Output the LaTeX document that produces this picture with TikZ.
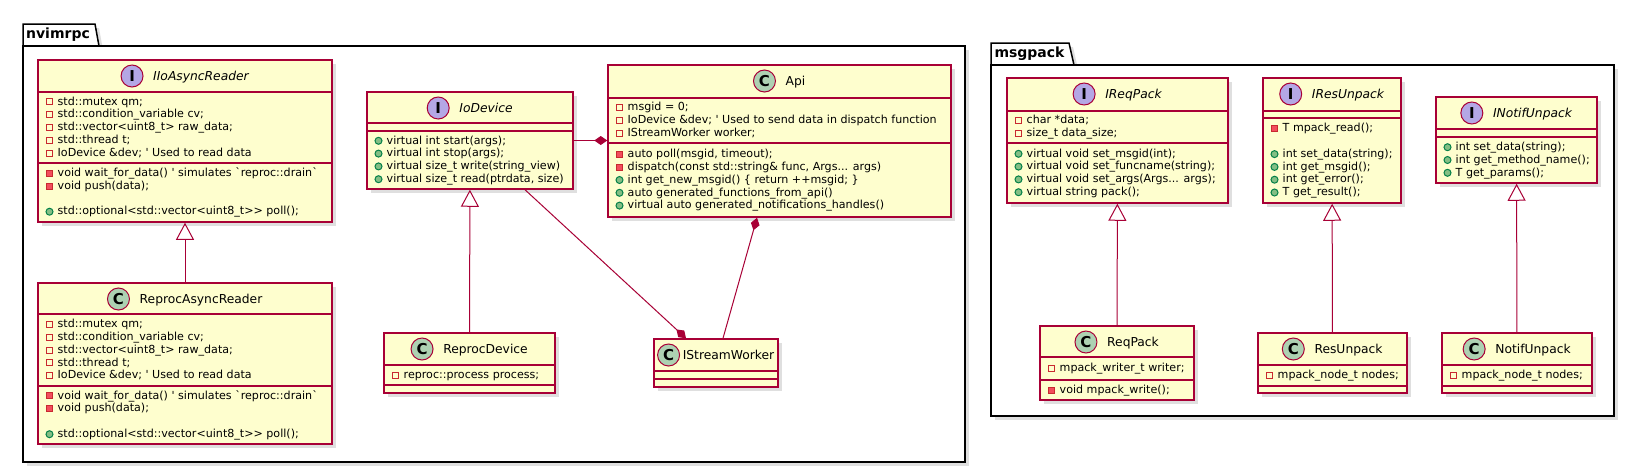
\documentclass[tikz,border=0pt]{standalone}
\usepackage{fontspec}
\newfontfamily\umlfont{DejaVu Sans}[ItalicFont={DejaVu Sans Oblique},BoldFont={DejaVu Sans Bold},BoldItalicFont={DejaVu Sans Bold Oblique}]
\usetikzlibrary{arrows.meta,shadows,fit}

% PlantUML colours
\definecolor{umlfill}{HTML}{FEFECE}
\definecolor{umlborder}{HTML}{A80036}
\definecolor{spotC}{HTML}{ADD1B2}
\definecolor{spotI}{HTML}{B4A7E5}
\definecolor{privline}{HTML}{C82930}
\definecolor{privfill}{HTML}{F24D5C}
\definecolor{publine}{HTML}{038048}
\definecolor{pubfill}{HTML}{84BE84}

\tikzset{
  umlshadow/.style={drop shadow={shadow xshift=4pt, shadow yshift=-4pt, opacity=0.25}},
  package/.style={draw=black, line width=1.5pt, fill=white, inner sep=0pt, umlshadow},
  pkglabel/.style={inner sep=0pt, font=\umlfont\bfseries\fontsize{14}{16}\selectfont},
  classbox/.style={draw=umlborder, line width=1.5pt, fill=umlfill, inner sep=0pt, umlshadow},
  classline/.style={draw=umlborder, line width=1.5pt},
  classname/.style={inner sep=0pt, text height=9pt, text depth=0pt, font=\umlfont\fontsize{12.3}{14}\selectfont},
  spot/.style={circle, draw=umlborder, line width=1pt, minimum size=22pt, inner sep=0pt, font=\umlfont\bfseries\fontsize{15}{15}\selectfont},
  spot C/.style={spot, fill=spotC},
  spot I/.style={spot, fill=spotI},
  member/.style={anchor=west, inner sep=0pt, text height=9pt, text depth=2.5pt, font=\umlfont\fontsize{11.1}{12.8}\selectfont},
  icon f/.style={draw=privline, line width=1pt, minimum size=6pt, inner sep=0pt},
  icon m/.style={draw=privline, fill=privfill, line width=1pt, minimum size=6pt, inner sep=0pt},
  icon p/.style={circle, draw=publine, fill=pubfill, line width=1pt, minimum size=7pt, inner sep=0pt},
  icon e/.style={inner sep=0pt},
  extends/.style={draw=umlborder, line width=1pt, -{Triangle[open, length=17pt, width=18pt]}},
  composition/.style={draw=umlborder, line width=1pt, -{Diamond[length=13pt, width=9pt]}}
}

% class box: name, spot letter, title, left, top, right, bottom, divider ys, gap spot/title
\newcommand\umlclass[9]{%
  \node[classbox, fit={(#4,#5) (#6,#7)}] (#1) {};
  \foreach \dy in {#8} \draw[classline] (#4,\dy) -- (#6,\dy);
  \node[classname] (#1-name) at ({(#4+#6)/2+(22+#9)/2}, #5+16) {#3};
  \node[spot #2] (#1-spot) at ([xshift=-#9-11]#1-name.west) {#2};
}

% one compartment: name, left, top, bottom, list of visibility/text
\newcount\memberno
\newcommand\members[5]{%
  \global\memberno=0
  \foreach \mvis/\mtext in {#5} {\global\advance\memberno by 1}
  \pgfmathsetmacro\firsty{(#3+#4)/2-(\the\memberno-1)*6.4}
  \foreach \mvis/\mtext [count=\i] in {#5} {
    \node[icon \mvis] (#1-i\i) at (#2+11.5, {\firsty+(\i-1)*12.8}) {};
    \node[member] (#1-\i) at (#2+19.5, {\firsty+(\i-1)*12.8}) {\mtext};
  }%
}

\begin{document}
\begin{tikzpicture}[x=1pt, y=-1pt]

    \useasboundingbox (0,0) rectangle (1635,472);
    \fill[white] (0,0) rectangle (1635,472);

    % packages
    \draw[package] (23,46) -- (23,24) -- (95,24) -- (99,46) -- cycle;
    \node[package, fit={(23,46) (965,462)}] (nvimrpc) {};
    \node[pkglabel] (nvimrpc-label) at (58,35) {nvimrpc};

    \draw[package] (991,65) -- (991,43) -- (1069,43) -- (1074,65) -- cycle;
    \node[package, fit={(991,65) (1614,416)}] (msgpack) {};
    \node[pkglabel] (msgpack-label) at (1029.5,54) {msgpack};

    % nvimrpc classes
    \umlclass{ioasync}{I}{\itshape IIoAsyncReader}{38}{60}{332}{222}{92,163}{10}
    \members{ioasync-f}{38}{92}{163}{f/{std::mutex qm;}, f/{std::condition\_variable cv;}, f/{std::vector<uint8\_t> raw\_data;}, f/{std::thread t;}, f/{IoDevice \&dev; ' Used to read data}}
    \members{ioasync-m}{38}{163}{222}{m/{void wait\_for\_data() ' simulates `reproc::drain`}, m/{void push(data);}, e/{}, p/{std::optional<std::vector<uint8\_t>> poll();}}

    \umlclass{reprocasync}{C}{ReprocAsyncReader}{38}{283}{332}{444}{314,386}{10}
    \members{reprocasync-f}{38}{314}{386}{f/{std::mutex qm;}, f/{std::condition\_variable cv;}, f/{std::vector<uint8\_t> raw\_data;}, f/{std::thread t;}, f/{IoDevice \&dev; ' Used to read data}}
    \members{reprocasync-m}{38}{386}{444}{m/{void wait\_for\_data() ' simulates `reproc::drain`}, m/{void push(data);}, e/{}, p/{std::optional<std::vector<uint8\_t>> poll();}}

    \umlclass{iodevice}{I}{\itshape IoDevice}{367}{92}{573}{189}{123,131}{10}
    \members{iodevice-m}{367}{131}{189}{p/{virtual int start(args);}, p/{virtual int stop(args);}, p/{virtual size\_t write(string\_view)}, p/{virtual size\_t read(ptrdata, size)}}

    \umlclass{api}{C}{Api}{608}{65}{951}{217}{98,143}{10}
    \members{api-f}{608}{98}{143}{f/{msgid = 0;}, f/{IoDevice \&dev; ' Used to send data in dispatch function}, f/{IStreamWorker worker;}}
    \members{api-m}{608}{143}{217}{m/{auto poll(msgid, timeout);}, m/{dispatch(const std::string\& func, Args... args)}, p/{int get\_new\_msgid() \{ return ++msgid; \}}, p/{auto generated\_functions\_from\_api()}, p/{virtual auto generated\_notifications\_handles()}}

    \umlclass{reprocdevice}{C}{ReprocDevice}{384}{333}{555}{393}{365,385}{10}
    \members{reprocdevice-f}{384}{365}{385}{f/{reproc::process process;}}

    \umlclass{streamworker}{C}{IStreamWorker}{654}{339}{778}{387}{371,379}{3}

    % msgpack classes
    \umlclass{ireqpack}{I}{\itshape IReqPack}{1007}{78}{1228}{203}{111,143}{10}
    \members{ireqpack-f}{1007}{111}{143}{f/{char *data;}, f/{size\_t data\_size;}}
    \members{ireqpack-m}{1007}{143}{203}{p/{virtual void set\_msgid(int);}, p/{virtual void set\_funcname(string);}, p/{virtual void set\_args(Args... args);}, p/{virtual string pack();}}

    \umlclass{iresunpack}{I}{\itshape IResUnpack}{1263}{78}{1401}{203}{111,118}{10}
    \members{iresunpack-m}{1263}{118}{203}{m/{T mpack\_read();}, e/{}, p/{int set\_data(string);}, p/{int get\_msgid();}, p/{int get\_error();}, p/{T get\_result();}}

    \umlclass{inotifunpack}{I}{\itshape INotifUnpack}{1436}{97}{1597}{183}{129,137}{10}
    \members{inotifunpack-m}{1436}{137}{183}{p/{int set\_data(string);}, p/{int get\_method\_name();}, p/{T get\_params();}}

    \umlclass{reqpack}{C}{ReqPack}{1040}{326}{1194}{400}{357,380}{10}
    \members{reqpack-f}{1040}{357}{380}{f/{mpack\_writer\_t writer;}}
    \members{reqpack-m}{1040}{380}{400}{m/{void mpack\_write();}}

    \umlclass{resunpack}{C}{ResUnpack}{1258}{333}{1407}{393}{365,386}{10}
    \members{resunpack-f}{1258}{365}{386}{f/{mpack\_node\_t nodes;}}

    \umlclass{notifunpack}{C}{NotifUnpack}{1442}{333}{1592}{393}{365,386}{10}
    \members{notifunpack-f}{1442}{365}{386}{f/{mpack\_node\_t nodes;}}

    % relations
    \draw[extends] (reprocasync) -- (ioasync);
    \draw[extends] (reprocdevice) -- (iodevice);
    \draw[composition] (iodevice.east) -- (iodevice.east -| api.west);
    \draw[composition] ([xshift=55]iodevice.south) -- ([xshift=-30]streamworker.north);
    \draw[composition] ([xshift=7]streamworker.north) -- ([xshift=-22.5]api.south);

    \draw[extends] (reqpack) -- (ireqpack);
    \draw[extends] (resunpack) -- (iresunpack);
    \draw[extends] (notifunpack) -- (inotifunpack);

\end{tikzpicture}
\end{document}
